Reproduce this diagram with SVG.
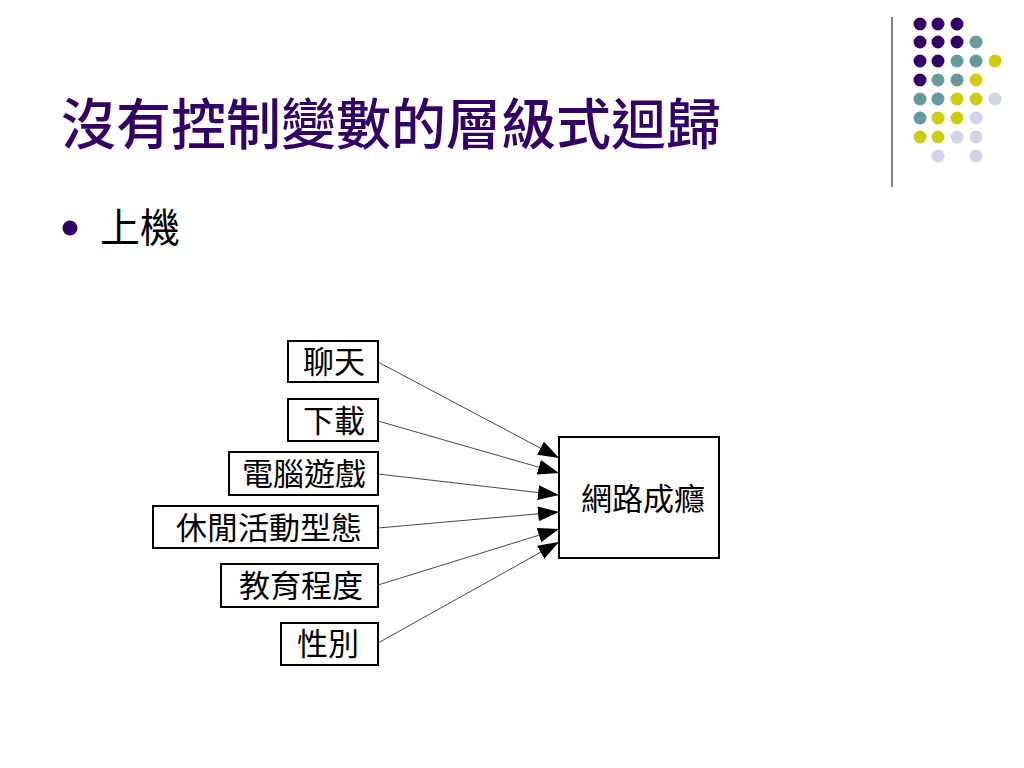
<svg xmlns="http://www.w3.org/2000/svg" width="1024" height="768" viewBox="0 0 1024 768">
<style>
.bg{fill:#ffffff}
.title{font-family:"Noto Sans CJK TC","Noto Sans CJK SC",sans-serif;font-size:55px;fill:#330066;font-weight:500}
.bullet{font-family:"Noto Sans CJK TC","Noto Sans CJK SC",sans-serif;font-size:40px;fill:#000000}
.box{fill:#ffffff;stroke:#000000;stroke-width:2}
.lbl{font-family:"Noto Sans CJK TC","Noto Sans CJK SC",sans-serif;font-size:31px;fill:#000000}
.edge{stroke:#333333;stroke-width:0.9;fill:none}
.p{fill:#330066}.t{fill:#669999}.y{fill:#CCCC11}.l{fill:#D3D3E6}
</style>
<defs>
<marker id="arr" markerUnits="userSpaceOnUse" markerWidth="22" markerHeight="16" refX="21" refY="7.5" orient="auto">
<path d="M0,0 L21,7.5 L0,15 z" fill="#000000"/>
</marker>
</defs>
<rect class="bg" x="0" y="0" width="1024" height="768"/>
<g id="decor">
<line x1="892" y1="17" x2="892" y2="187" stroke="#555555" stroke-width="1.5"/>
<g>
<circle class="p" cx="920" cy="24" r="6.5"/><circle class="p" cx="938" cy="24" r="6.5"/><circle class="p" cx="957" cy="24" r="6.5"/>
<circle class="p" cx="920" cy="42" r="6.5"/><circle class="p" cx="938" cy="42" r="6.5"/><circle class="p" cx="957" cy="42" r="6.5"/><circle class="t" cx="976" cy="42" r="6.5"/>
<circle class="p" cx="920" cy="61" r="6.5"/><circle class="p" cx="938" cy="61" r="6.5"/><circle class="t" cx="957" cy="61" r="6.5"/><circle class="t" cx="976" cy="61" r="6.5"/><circle class="y" cx="995" cy="61" r="6.5"/>
<circle class="p" cx="920" cy="80" r="6.5"/><circle class="t" cx="938" cy="80" r="6.5"/><circle class="t" cx="957" cy="80" r="6.5"/><circle class="y" cx="976" cy="80" r="6.5"/>
<circle class="t" cx="920" cy="99" r="6.5"/><circle class="t" cx="938" cy="99" r="6.5"/><circle class="y" cx="957" cy="99" r="6.5"/><circle class="y" cx="976" cy="99" r="6.5"/><circle class="l" cx="995" cy="99" r="6.5"/>
<circle class="t" cx="920" cy="118" r="6.5"/><circle class="y" cx="938" cy="118" r="6.5"/><circle class="y" cx="957" cy="118" r="6.5"/><circle class="l" cx="976" cy="118" r="6.5"/>
<circle class="y" cx="920" cy="137" r="6.5"/><circle class="y" cx="938" cy="137" r="6.5"/><circle class="l" cx="957" cy="137" r="6.5"/><circle class="l" cx="976" cy="137" r="6.5"/>
<circle class="l" cx="938" cy="156" r="6.5"/><circle class="l" cx="976" cy="156" r="6.5"/>
</g>
</g>
<text id="title" class="title" x="61" y="144">沒有控制變數的層級式迴歸</text>
<g id="bullet1">
<circle cx="70" cy="228" r="7.5" fill="#330066"/>
<text class="bullet" x="100" y="242">上機</text>
</g>
<g id="connectors">
<line class="edge" x1="378" y1="362" x2="559" y2="458" marker-end="url(#arr)"/>
<line class="edge" x1="378" y1="421" x2="559" y2="473" marker-end="url(#arr)"/>
<line class="edge" x1="378" y1="474" x2="559" y2="495" marker-end="url(#arr)"/>
<line class="edge" x1="378" y1="528" x2="559" y2="512" marker-end="url(#arr)"/>
<line class="edge" x1="378" y1="585" x2="559" y2="529" marker-end="url(#arr)"/>
<line class="edge" x1="378" y1="643" x2="559" y2="542" marker-end="url(#arr)"/>
</g>
<g id="n-chat"><rect class="box" x="288" y="341" width="90" height="41"/><text class="lbl" x="365" y="373" text-anchor="end">聊天</text></g>
<g id="n-download"><rect class="box" x="288" y="399" width="90" height="42"/><text class="lbl" x="365" y="432" text-anchor="end">下載</text></g>
<g id="n-game"><rect class="box" x="229" y="452" width="149" height="43"/><text class="lbl" x="366" y="485" text-anchor="end">電腦遊戲</text></g>
<g id="n-leisure"><rect class="box" x="153" y="506" width="225" height="42"/><text class="lbl" x="362" y="539" text-anchor="end">休閒活動型態</text></g>
<g id="n-edu"><rect class="box" x="221" y="564" width="157" height="43"/><text class="lbl" x="363" y="597" text-anchor="end">教育程度</text></g>
<g id="n-gender"><rect class="box" x="281" y="623" width="97" height="42"/><text class="lbl" x="359" y="655" text-anchor="end">性別</text></g>
<g id="n-target"><rect class="box" x="559" y="437" width="160" height="121"/><text class="lbl" x="581" y="510">網路成癮</text></g>
</svg>
